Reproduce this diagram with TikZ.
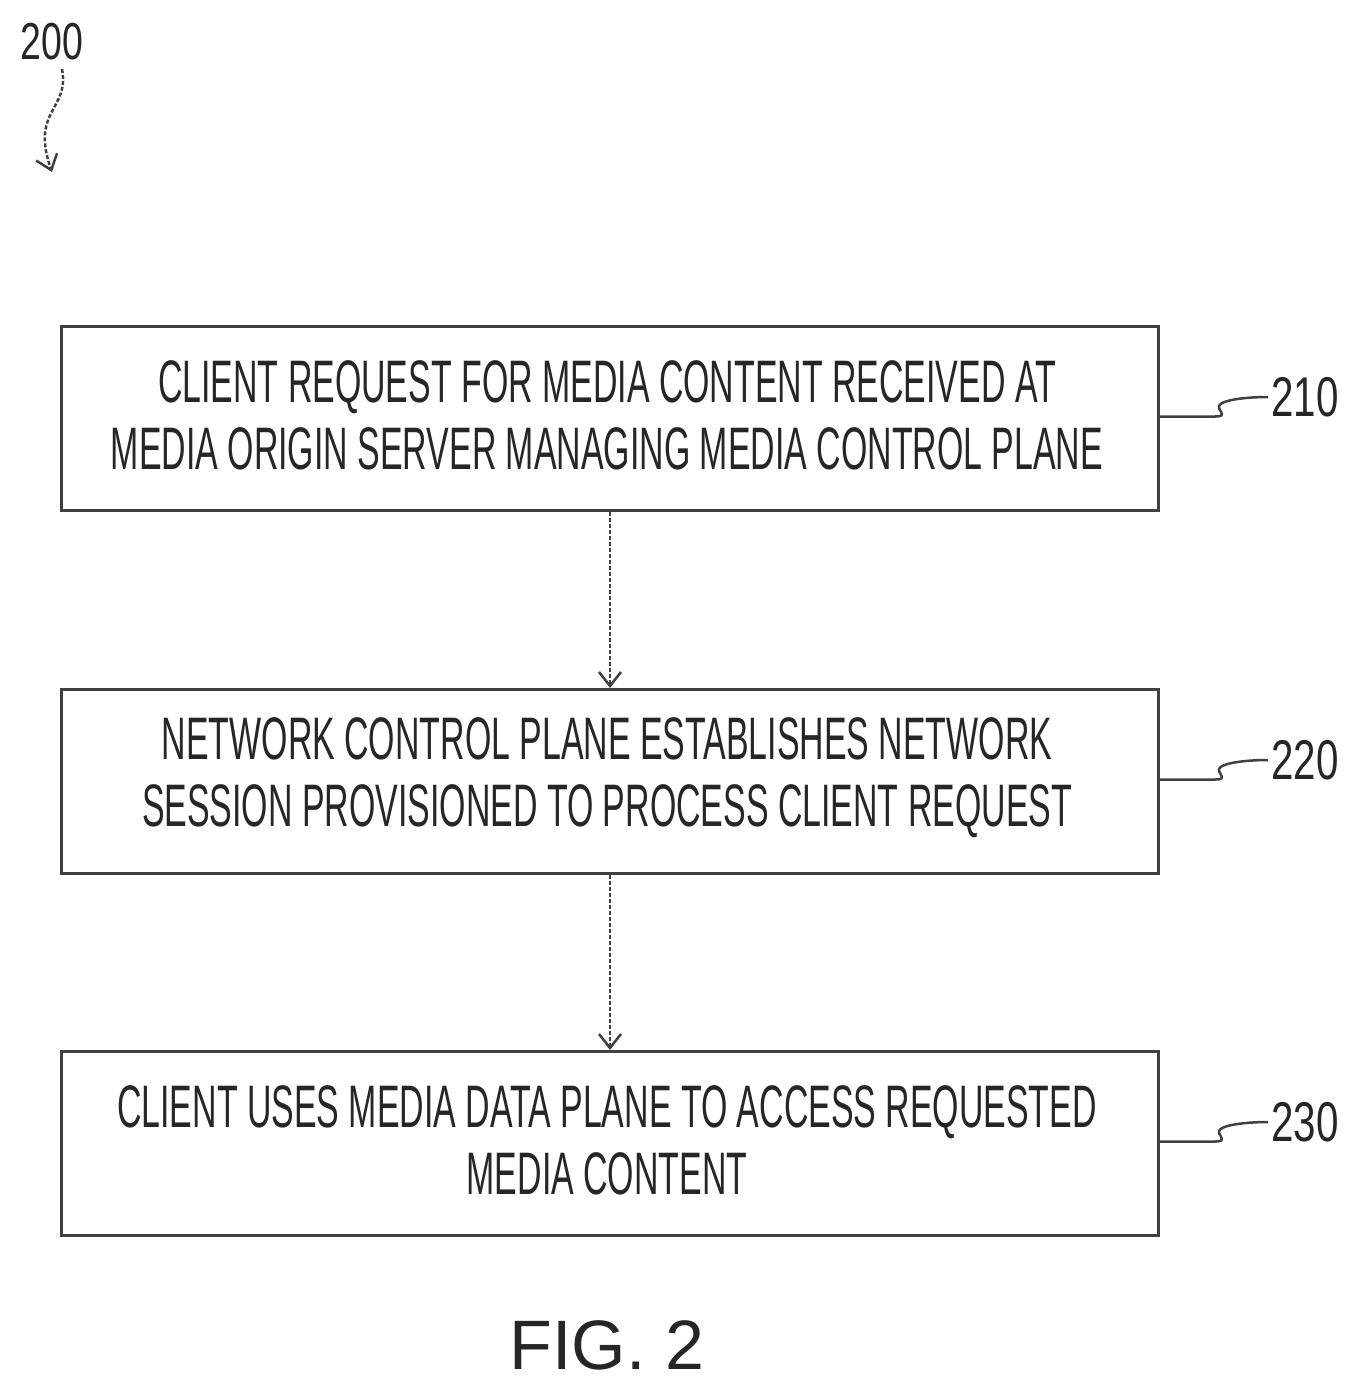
\documentclass[tikz,border=0pt]{standalone}
\usetikzlibrary{arrows.meta}
\usepackage{fontspec}
\newfontfamily\cond[FakeStretch=0.565]{Liberation Sans}
\newfontfamily\labf[FakeStretch=0.72]{Liberation Sans}
\newfontfamily\fig{Liberation Sans}
\begin{document}
\begin{tikzpicture}[x=1pt,y=-1pt,
 box/.style={draw=black!75,line width=3pt,minimum width=1097pt,minimum height=184pt,anchor=north west,inner sep=0pt},
 txt/.style={font=\cond\fontsize{60}{67}\selectfont,align=center,text=black!85},
 lab/.style={font=\labf\fontsize{56}{60}\selectfont,text=black!85,anchor=west},
 arr/.style={draw=black!75,line width=2.5pt,dash pattern=on 4pt off 2pt,-{Straight Barb[length=14pt,width=22pt,line width=2.5pt]}},
 sq/.style={draw=black!75,line width=2.5pt}]
\useasboundingbox (0,0) rectangle (1361,1393);
\node[box] (b1) at (60,325) {};
\node[box] (b2) at (60,688) {};
\node[box] (b3) at (60,1050) {};
\node[txt] (t1) at (607,415) {CLIENT REQUEST FOR MEDIA CONTENT RECEIVED AT\\MEDIA ORIGIN SERVER MANAGING MEDIA CONTROL PLANE};
\node[txt] (t2) at (607,778) {NETWORK CONTROL PLANE ESTABLISHES NETWORK\\SESSION PROVISIONED TO PROCESS CLIENT REQUEST};
\node[txt] (t3) at (607,1140) {CLIENT USES MEDIA DATA PLANE TO ACCESS REQUESTED\\MEDIA CONTENT};
\draw[arr] (b1.south) -- (b2.north);
\draw[arr] (b2.south) -- (b3.north);
\node[lab] (l1) at (1268,397) {210};
\node[lab] (l2) at (1268,760) {220};
\node[lab] (l3) at (1268,1122) {230};
\foreach \b/\l in {b1/l1,b2/l2,b3/l3}{
 \draw[sq] (\b.east) ++(0,-2) .. controls +(30,0) and +(-25,0) .. ++(55,0)
   .. controls +(15,0) and +(-5,5) .. ++(5,-12) .. controls +(5,-5) and +(-20,0) .. (\l.west);}
\node[font=\labf\fontsize{52}{56}\selectfont,text=black!85] (n200) at (52,42) {200};
\coordinate (a200) at (52,172);
\draw[sq,dash pattern=on 4pt off 2pt,-{Straight Barb[length=14pt,width=22pt,line width=2.5pt]}] (n200.south) ++(10,5) .. controls (70,110) and (30,110) .. (a200);
\node[font=\fig\fontsize{70}{76}\selectfont,text=black!85] (fig) at (607,1345) {FIG. 2};
\end{tikzpicture}
\end{document}
